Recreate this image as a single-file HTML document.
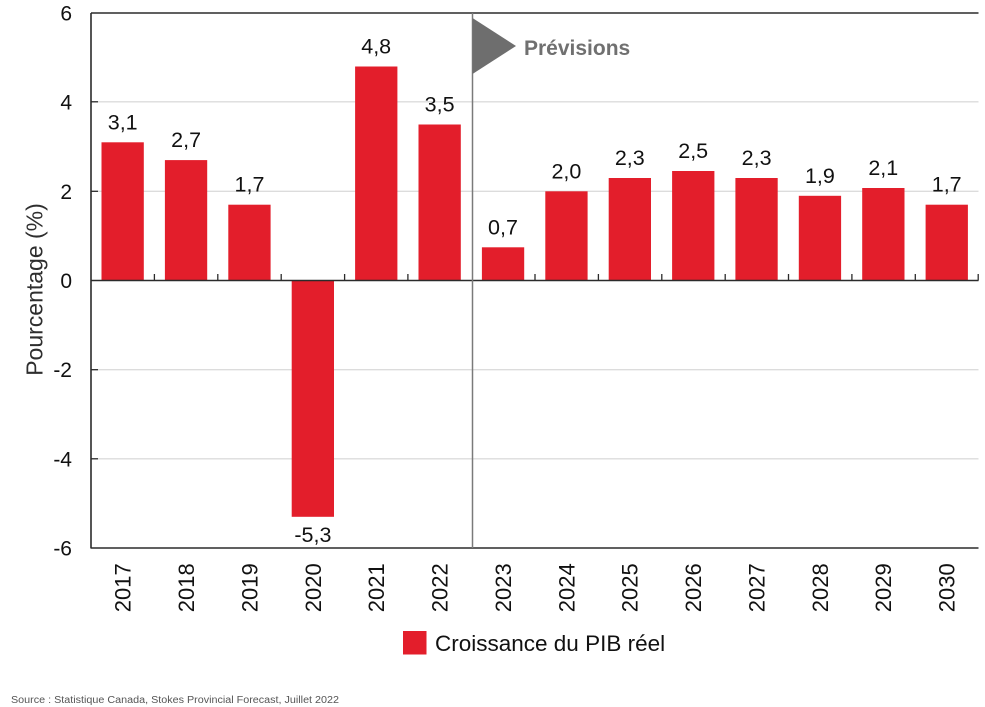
<!DOCTYPE html>
<html>
<head>
<meta charset="utf-8">
<style>
  html,body{margin:0;padding:0;background:#fff;}
  svg{display:block;}
  text{font-family:"Liberation Sans",Arial,sans-serif;}
</style>
</head>
<body>
<svg width="985" height="707" viewBox="0 0 985 707" xmlns="http://www.w3.org/2000/svg">
  <rect width="985" height="707" fill="#fff"/>

  <!-- gridlines -->
  <g stroke="#dcdcdc" stroke-width="1.3">
    <line x1="91" y1="101.8" x2="978.5" y2="101.8"/>
    <line x1="91" y1="191.3" x2="978.5" y2="191.3"/>
    <line x1="91" y1="369.7" x2="978.5" y2="369.7"/>
    <line x1="91" y1="458.8" x2="978.5" y2="458.8"/>
  </g>

  <!-- bars -->
  <g fill="#e31e2b">
    <rect x="101.5" y="142.3" width="42.3" height="138.2"/>
    <rect x="164.9" y="160.1" width="42.3" height="120.4"/>
    <rect x="228.3" y="204.7" width="42.3" height="75.8"/>
    <rect x="291.7" y="280.5" width="42.3" height="236.3"/>
    <rect x="355.1" y="66.5" width="42.3" height="214.0"/>
    <rect x="418.5" y="124.5" width="42.3" height="156.0"/>
    <rect x="481.9" y="247.3" width="42.3" height="33.2"/>
    <rect x="545.3" y="191.3" width="42.3" height="89.2"/>
    <rect x="608.7" y="178.0" width="42.3" height="102.5"/>
    <rect x="672.1" y="171.0" width="42.3" height="109.5"/>
    <rect x="735.4" y="178.0" width="42.3" height="102.5"/>
    <rect x="798.8" y="195.8" width="42.3" height="84.7"/>
    <rect x="862.2" y="188.0" width="42.3" height="92.5"/>
    <rect x="925.6" y="204.7" width="42.3" height="75.8"/>
  </g>

  <!-- axes -->
  <g stroke="#2b2b2b" stroke-width="1.6" fill="none">
    <line x1="91" y1="13" x2="978.5" y2="13"/>
    <line x1="91" y1="13" x2="91" y2="548.5"/>
    <line x1="91" y1="548" x2="978.5" y2="548"/>
    <line x1="91" y1="280.5" x2="978.5" y2="280.5"/>
  </g>
  <!-- y ticks -->
  <g stroke="#2b2b2b" stroke-width="1.3">
    <line x1="91" y1="101.8" x2="98" y2="101.8"/>
    <line x1="91" y1="191.3" x2="98" y2="191.3"/>
    <line x1="91" y1="369.7" x2="98" y2="369.7"/>
    <line x1="91" y1="458.8" x2="98" y2="458.8"/>
  </g>
  <!-- x ticks at zero line -->
  <g stroke="#2b2b2b" stroke-width="1.3">
    <line x1="154.4" y1="274" x2="154.4" y2="280.5"/>
    <line x1="217.8" y1="274" x2="217.8" y2="280.5"/>
    <line x1="281.2" y1="274" x2="281.2" y2="280.5"/>
    <line x1="344.6" y1="274" x2="344.6" y2="280.5"/>
    <line x1="407.9" y1="274" x2="407.9" y2="280.5"/>
    <line x1="535.0" y1="274" x2="535.0" y2="280.5"/>
    <line x1="598.4" y1="274" x2="598.4" y2="280.5"/>
    <line x1="661.8" y1="274" x2="661.8" y2="280.5"/>
    <line x1="725.2" y1="274" x2="725.2" y2="280.5"/>
    <line x1="788.5" y1="274" x2="788.5" y2="280.5"/>
    <line x1="851.9" y1="274" x2="851.9" y2="280.5"/>
    <line x1="915.3" y1="274" x2="915.3" y2="280.5"/>
    <line x1="978.2" y1="274" x2="978.2" y2="280.5"/>
  </g>

  <!-- forecast line and flag -->
  <line x1="472.5" y1="13" x2="472.5" y2="548" stroke="#7a7a7a" stroke-width="1.5"/>
  <polygon points="472.5,18 472.5,74 516,46" fill="#6e6e6e"/>
  <text x="524" y="55" font-size="21" font-weight="bold" fill="#707070">Prévisions</text>

  <!-- y tick labels -->
  <g font-size="21" fill="#111" text-anchor="end">
    <text x="72" y="20.5">6</text>
    <text x="72" y="109.3">4</text>
    <text x="72" y="198.8">2</text>
    <text x="72" y="288">0</text>
    <text x="72" y="377.2">-2</text>
    <text x="72" y="466.3">-4</text>
    <text x="72" y="555.5">-6</text>
  </g>

  <!-- y title -->
  <text transform="translate(42.5,289.5) rotate(-90)" font-size="23" fill="#2e2e2e" text-anchor="middle">Pourcentage (%)</text>

  <!-- data labels -->
  <g font-size="21.5" fill="#111" text-anchor="middle">
    <text x="122.7" y="129.3">3,1</text>
    <text x="186.1" y="147.1">2,7</text>
    <text x="249.5" y="191.7">1,7</text>
    <text x="312.9" y="541.8">-5,3</text>
    <text x="376.2" y="53.5">4,8</text>
    <text x="439.6" y="111.5">3,5</text>
    <text x="503.0" y="234.3">0,7</text>
    <text x="566.4" y="178.3">2,0</text>
    <text x="629.8" y="165.0">2,3</text>
    <text x="693.2" y="158.0">2,5</text>
    <text x="756.6" y="165.0">2,3</text>
    <text x="819.9" y="182.8">1,9</text>
    <text x="883.3" y="175.0">2,1</text>
    <text x="946.7" y="191.7">1,7</text>
  </g>

  <!-- year labels -->
  <g font-size="22" fill="#111" text-anchor="end">
    <text transform="translate(130.6,563.3) rotate(-90)">2017</text>
    <text transform="translate(194.0,563.3) rotate(-90)">2018</text>
    <text transform="translate(257.4,563.3) rotate(-90)">2019</text>
    <text transform="translate(320.8,563.3) rotate(-90)">2020</text>
    <text transform="translate(384.1,563.3) rotate(-90)">2021</text>
    <text transform="translate(447.5,563.3) rotate(-90)">2022</text>
    <text transform="translate(510.9,563.3) rotate(-90)">2023</text>
    <text transform="translate(574.3,563.3) rotate(-90)">2024</text>
    <text transform="translate(637.7,563.3) rotate(-90)">2025</text>
    <text transform="translate(701.1,563.3) rotate(-90)">2026</text>
    <text transform="translate(764.5,563.3) rotate(-90)">2027</text>
    <text transform="translate(827.8,563.3) rotate(-90)">2028</text>
    <text transform="translate(891.2,563.3) rotate(-90)">2029</text>
    <text transform="translate(954.6,563.3) rotate(-90)">2030</text>
  </g>

  <!-- legend -->
  <rect x="403" y="631" width="23.5" height="23.5" fill="#e31e2b"/>
  <text x="435" y="651" font-size="22.5" fill="#111">Croissance du PIB réel</text>

  <!-- source -->
  <text x="11" y="703" font-size="10" fill="#555" textLength="328" lengthAdjust="spacingAndGlyphs">Source : Statistique Canada, Stokes Provincial Forecast, Juillet 2022</text>
</svg>
</body>
</html>
